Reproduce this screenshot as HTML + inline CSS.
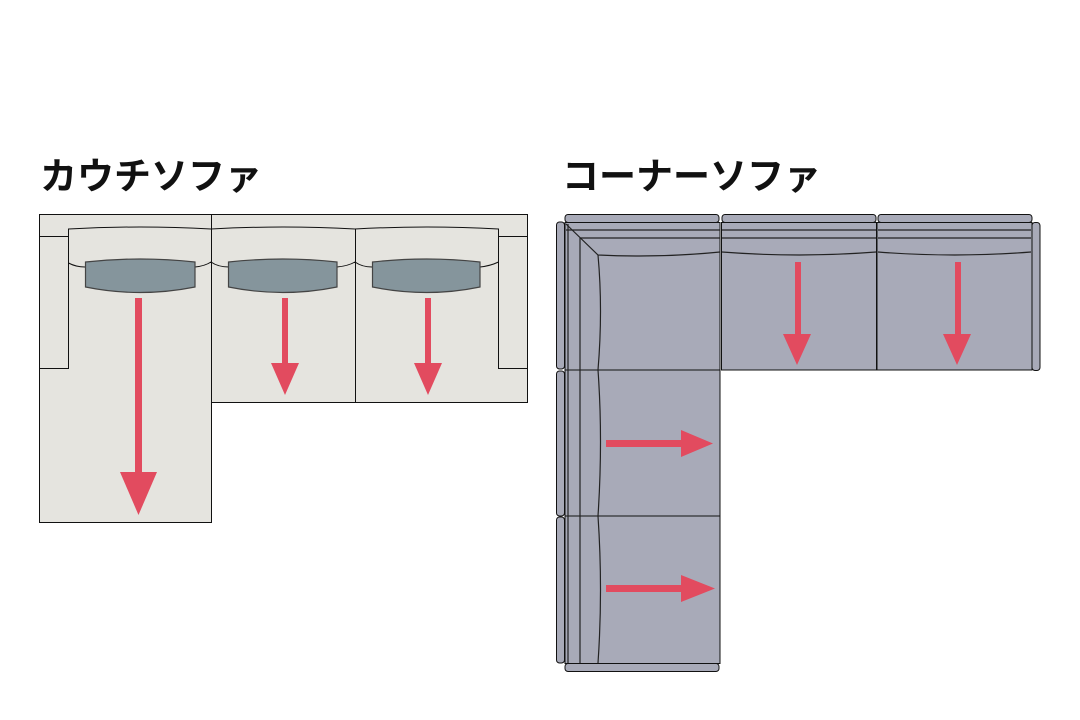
<!DOCTYPE html>
<html><head><meta charset="utf-8"><style>
html,body{margin:0;padding:0;background:#fff;width:1080px;height:720px;overflow:hidden}
svg{display:block}
text{font-family:"Liberation Sans","Noto Sans CJK JP",sans-serif;font-weight:bold;font-size:37px;fill:#111}
</style></head><body>
<svg width="1080" height="720" viewBox="0 0 1080 720" xmlns="http://www.w3.org/2000/svg">
<text x="40" y="189">カウチソファ</text>
<text x="562" y="189">コーナーソファ</text>

<!-- Couch sofa -->
<g stroke="#111" stroke-width="1" fill="#e5e4df">
<path d="M39.5 214.5 H527.5 V402.5 H211.5 V522.5 H39.5 Z"/>
<path d="M39.5 236.5 H68.5 V368.5 H39.5" fill="none"/>
<path d="M527.5 236.5 H498.5 V368.5 H527.5" fill="none"/>
<line x1="211.5" y1="214.5" x2="211.5" y2="402.5"/>
<line x1="355.5" y1="229" x2="355.5" y2="402.5"/>
<path d="M68.5 236 V229 Q140 225 211 229 Q283 225 355 229 Q427 225 498.5 229 V236" fill="none"/>
<path d="M68.5 263 Q76 267 85 267 M195 267 Q205 266 211 262 Q218 267 229 267 M337 267 Q348 266 355 262 Q362 267 372 267 M480 267 Q490 266 498.5 262" fill="none"/>
</g>
<g fill="#85959c" stroke="#444" stroke-width="1.2">
<path d="M85.5 262 Q140 256 195 262 V287 Q140 298 85.5 287 Z"/>
<path d="M228.5 262 Q283 256 337 262 V287 Q283 298 228.5 287 Z"/>
<path d="M372.5 262 Q427 256 480 262 V287 Q427 298 372.5 287 Z"/>
</g>
<g fill="#e24b5f">
<rect x="135" y="298" width="7" height="178"/>
<polygon points="120,472 157,472 138.5,515"/>
<rect x="282" y="298" width="6" height="68"/>
<polygon points="271,363 299,363 285,395"/>
<rect x="425" y="298" width="6" height="68"/>
<polygon points="414,363 442,363 428,395"/>
</g>

<!-- Corner sofa -->
<g stroke="#111" stroke-width="1" fill="#a8aab8">
<rect x="565" y="214.5" width="154" height="8" rx="3"/>
<rect x="722" y="214.5" width="154" height="8" rx="3"/>
<rect x="878" y="214.5" width="154" height="8" rx="3"/>
<rect x="1032" y="222.5" width="8" height="148" rx="3"/>
<rect x="556.5" y="222" width="8" height="147" rx="3"/>
<rect x="556.5" y="371" width="8" height="145" rx="3"/>
<rect x="556.5" y="517" width="8" height="146" rx="3"/>
<rect x="565" y="663.5" width="154" height="8" rx="3"/>
<rect x="565" y="222.5" width="155" height="147.5"/>
<rect x="721.5" y="222.5" width="155" height="147.5"/>
<rect x="877" y="222.5" width="155" height="147.5"/>
<rect x="565" y="370" width="155" height="146"/>
<rect x="565" y="516" width="155" height="147.5"/>
</g>
<g stroke="#222" stroke-width="1.2" fill="none">
<path d="M566 224 L598 255 Q660 258 720 252"/>
<path d="M580 238 H720 M566 230 H720"/>
<path d="M722 230 H876 M722 238 H876 M722 252 Q800 258 876 252"/>
<path d="M878 230 H1031 M878 238 H1031 M878 252 Q955 258 1031 252"/>
<path d="M568 224 V663 M580 238 V663"/>
<path d="M598 255 Q603 310 598 370 Q603 440 598 516 Q603 590 598 663"/>
</g>
<g fill="#e24b5f">
<rect x="795" y="262" width="6" height="74"/>
<polygon points="783,334 811,334 797,365"/>
<rect x="955" y="262" width="6" height="74"/>
<polygon points="943,334 971,334 957,365"/>
<rect x="606" y="440" width="78" height="7"/>
<polygon points="681,430 681,457 713,443.5"/>
<rect x="606" y="585" width="78" height="7"/>
<polygon points="681,575 681,602 715,588.5"/>
</g>
</svg>
</body></html>
